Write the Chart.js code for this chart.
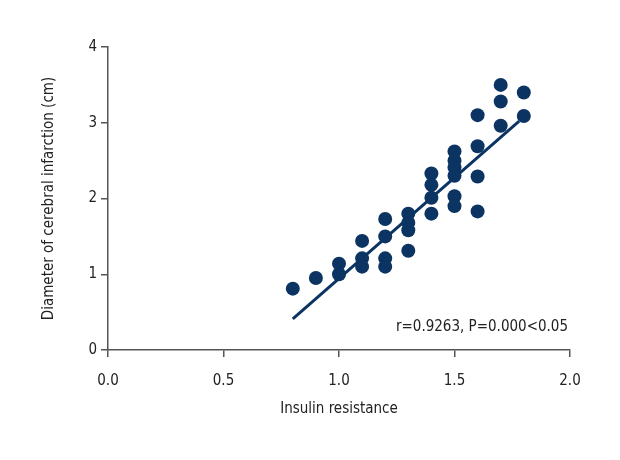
<!DOCTYPE html>
<html>
<head>
<meta charset="utf-8">
<script src="https://cdn.jsdelivr.net/npm/chart.js@4/dist/chart.umd.min.js"></script>
<style>
  html, body { margin: 0; padding: 0; background: #fff; }
  #wrap { width: 620px; height: 460px; }
</style>
</head>
<body>
<div id="wrap"><canvas id="scatter"></canvas></div>
<script>
// data
const insulin = [0.8, 0.9, 1.0, 1.0, 1.1, 1.1, 1.1, 1.2, 1.2, 1.2, 1.2,
  1.3, 1.3, 1.3, 1.3, 1.4, 1.4, 1.4, 1.4,
  1.5, 1.5, 1.5, 1.5, 1.5, 1.5, 1.6, 1.6, 1.6, 1.6, 1.7, 1.7, 1.7, 1.8, 1.8];
const diameter = [0.81, 0.95, 1.14, 1.0, 1.44, 1.21, 1.1, 1.73, 1.5, 1.21, 1.1,
  1.8, 1.68, 1.58, 1.31, 2.33, 2.18, 2.01, 1.8,
  2.62, 2.5, 2.41, 2.3, 2.03, 1.9, 3.1, 2.69, 2.29, 1.83, 3.5, 3.28, 2.96, 3.4, 3.09];
const fitX = [0.8, 1.78];
const fitY = [0.41, 3.02];
const xTicks = [0, 0.5, 1.0, 1.5, 2.0];
const yTicks = [0, 1, 2, 3, 4];
const statText = 'r=0.9263, P=0.000<0.05';

const NAVY = '#0b3462';
const AXIS = '#555555';
const FONT = '"Liberation Sans Narrow", "DejaVu Sans Condensed", "Roboto", sans-serif';

// corner label with the correlation result
const statLabel = {
  id: 'statLabel',
  afterDraw(chart) {
    const { ctx, chartArea } = chart;
    ctx.save();
    ctx.font = '15px ' + FONT;
    ctx.fillStyle = '#222';
    ctx.textAlign = 'right';
    ctx.textBaseline = 'middle';
    ctx.fillText(statText, chartArea.right - 2, chartArea.bottom - 23);
    ctx.restore();
  }
};

new Chart(document.getElementById('scatter'), {
  type: 'scatter',
  data: {
    datasets: [
      {
        label: 'points',
        data: insulin.map((x, i) => ({ x, y: diameter[i] })),
        backgroundColor: NAVY,
        borderColor: NAVY,
        pointRadius: 7,
        pointHoverRadius: 7,
        borderWidth: 0
      },
      {
        label: 'fit',
        type: 'line',
        data: fitX.map((x, i) => ({ x, y: fitY[i] })),
        borderColor: NAVY,
        borderWidth: 3,
        pointRadius: 0,
        fill: false
      }
    ]
  },
  options: {
    responsive: true,
    maintainAspectRatio: false,
    animation: false,
    layout: { padding: { left: 36, right: 50, top: 47, bottom: 38 } },
    plugins: { legend: { display: false }, tooltip: { enabled: false } },
    scales: {
      x: {
        type: 'linear',
        min: 0, max: 2,
        afterBuildTicks: (s) => { s.ticks = xTicks.map(v => ({ value: v })); },
        afterFit: (s) => { s.height = 72; },
        border: { color: AXIS, width: 1.5 },
        grid: { drawOnChartArea: false, color: AXIS, lineWidth: 1.5, tickLength: 7 },
        ticks: {
          color: '#222', padding: 15,
          font: { family: FONT, size: 15 },
          callback: (v) => v.toFixed(1)
        },
        title: {
          display: true, text: 'Insulin resistance', color: '#222',
          font: { family: FONT, size: 15 }
        }
      },
      y: {
        type: 'linear',
        min: 0, max: 4,
        afterBuildTicks: (s) => { s.ticks = yTicks.map(v => ({ value: v })); },
        afterFit: (s) => { s.width = 72; },
        border: { color: AXIS, width: 1.5 },
        grid: { drawOnChartArea: false, color: AXIS, lineWidth: 1.5, tickLength: 7 },
        ticks: {
          color: '#222', padding: 4,
          font: { family: FONT, size: 15 }
        },
        title: {
          display: true, text: 'Diameter of cerebral infarction (cm)', color: '#222',
          font: { family: FONT, size: 15 }
        }
      }
    }
  },
  plugins: [statLabel]
});
</script>
</body>
</html>
